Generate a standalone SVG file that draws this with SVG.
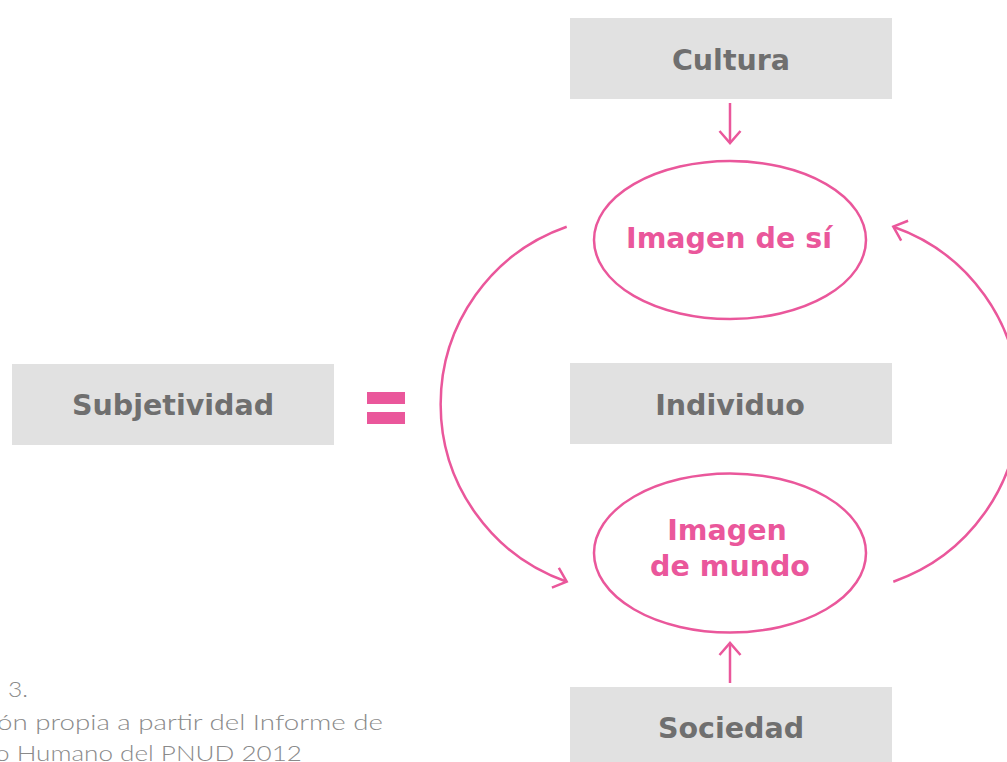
<svg xmlns="http://www.w3.org/2000/svg" width="1007" height="762" viewBox="0 0 1007 762">
<style>
.box{fill:#e1e1e1}
.lbl{font-family:"DejaVu Sans","Liberation Sans",sans-serif;font-weight:bold;font-size:28.5px;fill:#6f6f6f;text-anchor:middle}
.plbl{font-family:"DejaVu Sans","Liberation Sans",sans-serif;font-weight:bold;font-size:28.5px;fill:#ea579b;text-anchor:middle}
.ell{fill:none;stroke:#ea579b;stroke-width:2.5}
.con{fill:none;stroke:#ea579b;stroke-width:2.5}
.cap{font-family:Lato,"Liberation Sans",sans-serif;font-weight:300;font-size:22px;fill:#8a8a8a}
.eq{fill:#ea579b}
</style>
<defs>
<marker id="chev" markerUnits="userSpaceOnUse" markerWidth="30" markerHeight="30" viewBox="-15 -15 30 30" refX="0" refY="0" orient="auto" overflow="visible">
<path d="M-12,-10.5 L0,0 L-12,10.5" fill="none" stroke="#ea579b" stroke-width="2.5"/>
</marker>
</defs>
<g id="cultura"><rect class="box" x="570" y="18" width="322" height="81"/><text class="lbl" x="731" y="70">Cultura</text></g>
<g id="subjetividad"><rect class="box" x="12" y="364" width="322" height="81"/><text class="lbl" x="173" y="415">Subjetividad</text></g>
<g id="igual"><rect class="eq" x="367" y="392" width="38" height="12"/><rect class="eq" x="367" y="412" width="38" height="12"/></g>
<g id="individuo"><rect class="box" x="570" y="363" width="322" height="81"/><text class="lbl" x="730" y="415">Individuo</text></g>
<g id="sociedad"><rect class="box" x="570" y="687" width="322" height="80"/><text class="lbl" x="731" y="738">Sociedad</text></g>
<g id="imagen-si"><ellipse class="ell" cx="730" cy="240" rx="136" ry="79"/><text class="plbl" x="729" y="248">Imagen de sí</text></g>
<g id="imagen-mundo"><ellipse class="ell" cx="730" cy="553" rx="136" ry="79.5"/><text class="plbl" x="727" y="540">Imagen</text><text class="plbl" x="730" y="576">de mundo</text></g>
<g id="conectores">
<path class="con" d="M730,103 L730,143" marker-end="url(#chev)"/>
<path class="con" d="M730,683 L730,643" marker-end="url(#chev)"/>
<path class="con" d="M566.7,226.7 A188,188 0 0 0 566.7,581.7" marker-end="url(#chev)"/>
<path class="con" d="M893.3,581.7 A188,188 0 0 0 893.3,226.7" marker-end="url(#chev)"/>
</g>
<g id="leyenda">
<text class="cap" x="8" y="697" textLength="20" lengthAdjust="spacingAndGlyphs">3.</text>
<text class="cap" x="-3" y="729.5" textLength="386" lengthAdjust="spacingAndGlyphs">ón propia a partir del Informe de</text>
<text class="cap" x="-5" y="761" textLength="307" lengthAdjust="spacingAndGlyphs">o Humano del PNUD 2012</text>
</g>
</svg>
